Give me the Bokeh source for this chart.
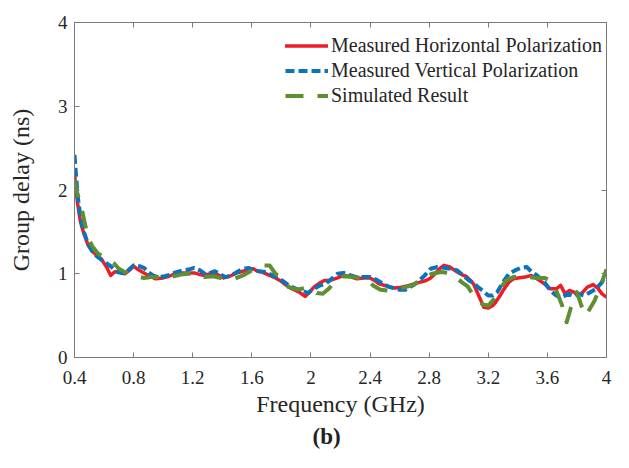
from bokeh.plotting import figure
from bokeh.models import (Legend, LegendItem, LinearAxis, FixedTicker, Title)
from bokeh.embed import file_html
from bokeh.resources import INLINE

# ---------------- data ----------------
freq_h = [0.40, 0.42, 0.44, 0.46, 0.49, 0.52, 0.55, 0.58, 0.62, 0.645, 0.67, 0.70, 0.74, 0.77, 0.80,
          0.83, 0.87, 0.91, 0.95, 1.00, 1.04, 1.08, 1.12, 1.17, 1.21, 1.25, 1.28, 1.32, 1.35, 1.38,
          1.41, 1.45, 1.50, 1.54, 1.58, 1.61, 1.64, 1.67, 1.72, 1.76, 1.79, 1.85, 1.92, 1.96, 1.99,
          2.02, 2.06, 2.09, 2.13, 2.18, 2.22, 2.26, 2.31, 2.36, 2.40, 2.43, 2.46, 2.50, 2.54, 2.57,
          2.61, 2.64, 2.68, 2.74, 2.78, 2.81, 2.84, 2.87, 2.90, 2.94, 2.99, 3.02, 3.05, 3.08, 3.10,
          3.12, 3.14, 3.17, 3.20, 3.23, 3.25, 3.28, 3.30, 3.34, 3.37, 3.40, 3.45, 3.49, 3.53, 3.58,
          3.62, 3.66, 3.69, 3.72, 3.75, 3.78, 3.81, 3.84, 3.87, 3.91, 3.94, 3.97, 4.00]
delay_h = [2.19, 1.85, 1.62, 1.50, 1.35, 1.27, 1.22, 1.18, 1.07, 0.98, 1.02, 1.03, 1.00, 1.04, 1.09,
           1.05, 1.01, 0.97, 0.94, 0.95, 0.97, 1.00, 1.01, 1.01, 1.01, 0.99, 0.98, 1.00, 1.01, 0.98,
           0.95, 0.97, 1.01, 1.03, 1.05, 1.06, 1.03, 1.02, 0.98, 0.95, 0.92, 0.84, 0.78, 0.73, 0.78,
           0.84, 0.89, 0.92, 0.92, 0.95, 0.98, 0.97, 0.94, 0.95, 0.95, 0.92, 0.88, 0.86, 0.84, 0.83,
           0.84, 0.85, 0.87, 0.90, 0.92, 0.95, 1.00, 1.06, 1.10, 1.08, 1.02, 0.99, 0.97, 0.92, 0.88,
           0.80, 0.72, 0.60, 0.59, 0.62, 0.66, 0.74, 0.80, 0.90, 0.94, 0.95, 0.96, 0.98, 0.94, 0.88,
           0.82, 0.82, 0.86, 0.76, 0.80, 0.78, 0.74, 0.78, 0.84, 0.87, 0.83, 0.76, 0.72]

freq_v = [0.40, 0.42, 0.44, 0.46, 0.49, 0.52, 0.55, 0.58, 0.62, 0.645, 0.67, 0.69, 0.72, 0.74, 0.77,
          0.80, 0.84, 0.87, 0.90, 0.93, 0.97, 1.01, 1.05, 1.09, 1.13, 1.17, 1.21, 1.25, 1.29, 1.32,
          1.35, 1.38, 1.42, 1.46, 1.50, 1.54, 1.58, 1.61, 1.65, 1.69, 1.73, 1.79, 1.85, 1.90, 1.94,
          1.98, 2.02, 2.06, 2.10, 2.14, 2.18, 2.22, 2.27, 2.31, 2.36, 2.40, 2.44, 2.48, 2.52, 2.57,
          2.60, 2.64, 2.68, 2.72, 2.77, 2.81, 2.85, 2.90, 2.95, 2.99, 3.03, 3.07, 3.10, 3.13, 3.16,
          3.20, 3.23, 3.26, 3.30, 3.34, 3.38, 3.42, 3.46, 3.49, 3.53, 3.58, 3.62, 3.66, 3.70, 3.74,
          3.78, 3.81, 3.85, 3.89, 3.93, 3.97, 4.00]
delay_v = [2.42, 1.95, 1.68, 1.52, 1.36, 1.27, 1.21, 1.17, 1.12, 1.09, 1.05, 1.02, 1.01, 1.00, 1.05,
           1.10, 1.09, 1.07, 1.02, 0.98, 0.96, 0.97, 0.99, 1.02, 1.04, 1.05, 1.07, 1.04, 0.99, 1.01,
           1.03, 1.00, 0.96, 0.98, 1.02, 1.06, 1.07, 1.04, 1.03, 1.02, 0.99, 0.94, 0.86, 0.82, 0.80,
           0.77, 0.82, 0.86, 0.88, 0.94, 1.00, 1.01, 0.98, 0.96, 0.96, 0.96, 0.93, 0.89, 0.85, 0.82,
           0.81, 0.81, 0.85, 0.90, 0.98, 1.06, 1.08, 1.07, 1.06, 1.04, 0.98, 0.92, 0.89, 0.84, 0.80,
           0.74, 0.74, 0.78, 0.90, 1.00, 1.04, 1.07, 1.08, 1.03, 0.98, 0.90, 0.80, 0.74, 0.72, 0.76,
           0.73, 0.76, 0.74, 0.78, 0.82, 0.90, 1.02]

freq_s = [0.40, 0.42, 0.44, 0.47, 0.49, 0.52, 0.56, 0.60, 0.64, 0.67, 0.70, 0.74, 0.77, 0.82, 0.87,
          0.92, 0.97, 1.02, 1.07, 1.12, 1.17, 1.22, 1.28, 1.34, 1.41, 1.48, 1.54, 1.60, 1.64, 1.68,
          1.72, 1.76, 1.80, 1.85, 1.91, 1.96, 2.00, 2.04, 2.08, 2.12, 2.17, 2.22, 2.28, 2.34, 2.38,
          2.42, 2.47, 2.52, 2.58, 2.64, 2.70, 2.76, 2.82, 2.88, 2.93, 2.98, 3.02, 3.06, 3.10, 3.14,
          3.17, 3.20, 3.24, 3.28, 3.32, 3.37, 3.42, 3.48, 3.53, 3.58, 3.62, 3.66, 3.70, 3.73, 3.76,
          3.80, 3.83, 3.86, 3.92, 3.96, 4.00]
delay_s = [2.12, 1.95, 1.85, 1.60, 1.44, 1.33, 1.24, 1.20, 1.16, 1.12, 1.06, 1.02, 1.00, 0.97, 0.95,
           0.96, 0.96, 0.96, 0.97, 0.99, 1.00, 1.00, 0.96, 0.97, 0.94, 0.94, 0.98, 1.04, 1.08, 1.10,
           1.10, 1.00, 0.95, 0.84, 0.81, 0.83, 0.82, 0.77, 0.76, 0.82, 0.92, 0.97, 0.96, 0.95, 0.94,
           0.86, 0.81, 0.80, 0.82, 0.84, 0.87, 0.96, 1.00, 1.02, 1.01, 0.96, 0.90, 0.85, 0.74, 0.66,
           0.63, 0.62, 0.70, 0.82, 0.92, 0.96, 0.97, 0.96, 0.95, 0.95, 0.92, 0.80, 0.62, 0.42, 0.60,
           0.78, 0.62, 0.50, 0.68, 0.86, 1.05]

series_names = ["Measured Horizontal Polarization", "Measured Vertical Polarization", "Simulated Result"]

x_ticks = [0.4, 0.8, 1.2, 1.6, 2.0, 2.4, 2.8, 3.2, 3.6, 4.0]
x_tick_labels = ["0.4", "0.8", "1.2", "1.6", "2", "2.4", "2.8", "3.2", "3.6", "4"]
y_ticks = [0, 1, 2, 3, 4]
y_tick_labels = ["0", "1", "2", "3", "4"]

# ---------------- styles ----------------
FONT = "Liberation Serif"
TXT = "#262626"
AX = "#7a7a7a"
RED = "#ee1c25"
BLUE = "#0b72bb"
GREEN = "#5f8f33"

p = figure(width=613, height=452, x_range=(0.4, 4.0), y_range=(0, 4),
           output_backend="svg", toolbar_location=None,
           min_border_left=74, min_border_right=7, min_border_top=22, min_border_bottom=95,
           background_fill_color="white", border_fill_color="white")
p.xgrid.visible = False
p.ygrid.visible = False
p.outline_line_color = AX
p.outline_line_width = 1

def style_axis(ax, ticks, labels, show):
    ax.ticker = FixedTicker(ticks=ticks)
    ax.major_tick_in = 5
    ax.major_tick_out = 0
    ax.minor_tick_in = 0
    ax.minor_tick_out = 0
    ax.axis_line_color = AX
    ax.major_tick_line_color = AX
    if show:
        ax.major_label_overrides = {t: l for t, l in zip(ticks, labels)}
        ax.major_label_text_font = FONT
        ax.major_label_text_color = TXT
        ax.major_label_text_font_size = "19px"
        ax.axis_label_text_font = FONT
        ax.axis_label_text_font_style = "normal"
        ax.axis_label_text_color = TXT
        ax.axis_label_text_font_size = "24px"
    else:
        ax.major_label_text_font_size = "0px"
        ax.major_label_text_color = None
        ax.major_label_standoff = 0

style_axis(p.xaxis[0], x_ticks, x_tick_labels, True)
style_axis(p.yaxis[0], y_ticks, y_tick_labels, True)
p.xaxis[0].axis_label = "Frequency (GHz)"
p.xaxis[0].major_label_standoff = 13
p.xaxis[0].axis_label_standoff = 4
p.yaxis[0].axis_label = "Group delay (ns)"
p.yaxis[0].major_label_standoff = 7
p.yaxis[0].axis_label_standoff = 21

top_ax = LinearAxis()
style_axis(top_ax, x_ticks, x_tick_labels, False)
p.add_layout(top_ax, "above")
right_ax = LinearAxis()
style_axis(right_ax, y_ticks, y_tick_labels, False)
p.add_layout(right_ax, "right")

r_h = p.line(freq_h, delay_h, line_color=RED, line_width=3.5, line_join="round", line_cap="round")
r_v = p.line(freq_v, delay_v, line_color=BLUE, line_width=4, line_dash="9 4", line_join="round")
r_s = p.line(freq_s, delay_s, line_color=GREEN, line_width=4, line_dash="18 14", line_join="round")

legend = Legend(items=[LegendItem(label=series_names[0], renderers=[r_h]),
                       LegendItem(label=series_names[1], renderers=[r_v]),
                       LegendItem(label=series_names[2], renderers=[r_s])],
                location=(206, 245), border_line_alpha=0, background_fill_color="white",
                background_fill_alpha=1.0, label_text_font=FONT, label_text_font_size="20px",
                label_text_color=TXT, glyph_width=43, glyph_height=21, label_height=21,
                spacing=2, label_standoff=3, padding=5, margin=0)
p.add_layout(legend, "center")

# "(b)" caption below the axis label
caption = Title(text="(b)", align="left", offset=238, standoff=4,
                text_font=FONT, text_font_style="bold", text_font_size="23px",
                text_color="#222222")
p.add_layout(caption, "below")

open("out.html", "w").write(file_html(p, INLINE))
